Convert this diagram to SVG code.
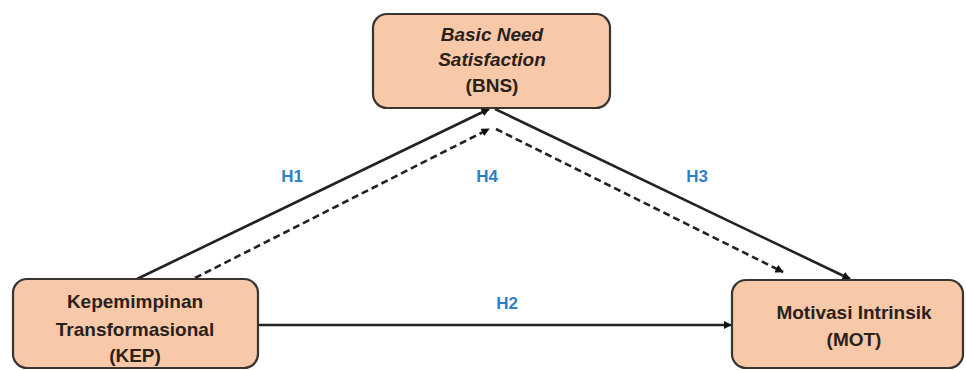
<svg xmlns="http://www.w3.org/2000/svg" width="966" height="370" viewBox="0 0 966 370">
<defs>
<style>
.box{fill:#f8c9a8;stroke:#3a3330;stroke-width:2.2}
.t{font-family:"Liberation Sans",Arial,sans-serif;font-weight:bold;font-size:19px;fill:#2a211c;text-anchor:middle}
.it{font-style:italic}
.lbl{font-family:"Liberation Sans",Arial,sans-serif;font-weight:bold;font-size:17px;fill:#2e7fc6;text-anchor:middle}
.ln{stroke:#222;stroke-width:2.6;fill:none}
.dash{stroke-dasharray:7 4}
</style>
<marker id="ah" viewBox="0 0 10 10" refX="9" refY="5" markerWidth="3.2" markerHeight="3.2" orient="auto" markerUnits="strokeWidth">
<path d="M0,0 L10,5 L0,10 z" fill="#111"/>
</marker>
</defs>
<rect width="966" height="370" fill="#ffffff"/>
<g id="connectors">
<line class="ln" x1="137" y1="279" x2="489" y2="109" marker-end="url(#ah)"/>
<line class="ln" x1="495" y1="109" x2="850" y2="279" marker-end="url(#ah)"/>
<line class="ln" x1="258" y1="325" x2="731" y2="325" marker-end="url(#ah)"/>
<line class="ln dash" x1="195" y1="278" x2="489" y2="129" marker-end="url(#ah)"/>
<line class="ln dash" x1="496" y1="129" x2="783" y2="272" marker-end="url(#ah)"/>
</g>
<g id="labels">
<text class="lbl" x="292" y="182">H1</text>
<text class="lbl" x="487" y="182">H4</text>
<text class="lbl" x="697" y="182">H3</text>
<text class="lbl" x="507" y="309">H2</text>
</g>
<g id="BNS">
<rect class="box" x="373" y="14" width="237" height="94" rx="14"/>
<text class="t it" x="492" y="41">Basic Need</text>
<text class="t it" x="492" y="66">Satisfaction</text>
<text class="t" x="492" y="92">(BNS)</text>
</g>
<g id="KEP">
<rect class="box" x="13" y="279" width="245" height="89" rx="14"/>
<text class="t" x="135" y="308">Kepemimpinan</text>
<text class="t" x="135" y="336">Transformasional</text>
<text class="t" x="135" y="362">(KEP)</text>
</g>
<g id="MOT">
<rect class="box" x="732" y="280" width="231" height="88" rx="14"/>
<text class="t" x="854" y="319">Motivasi Intrinsik</text>
<text class="t" x="854" y="346">(MOT)</text>
</g>
</svg>
